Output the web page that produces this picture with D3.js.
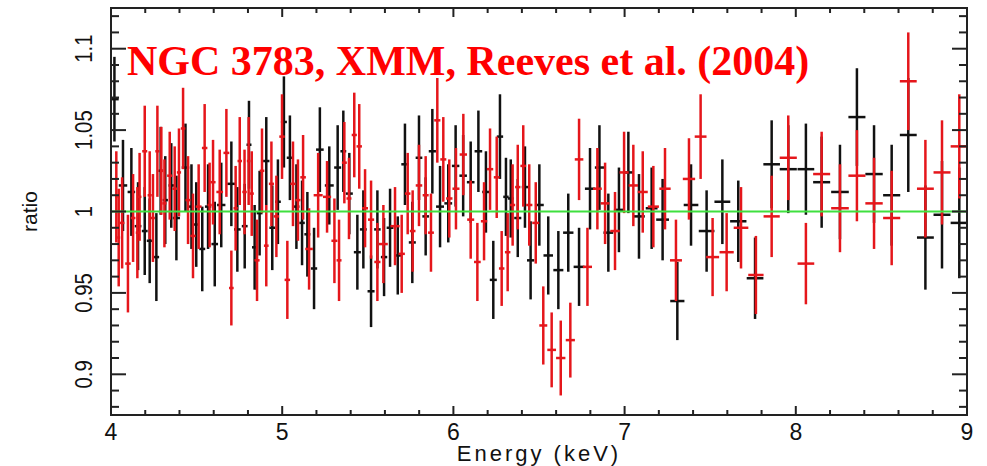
<!DOCTYPE html>
<html>
<head>
<meta charset="utf-8">
<script src="https://cdn.jsdelivr.net/npm/d3@7"></script>
<style>
  html, body { margin: 0; padding: 0; background: #ffffff; }
  svg { display: block; }
</style>
</head>
<body>
<svg id="chart" width="987" height="466"></svg>
<script>
// Data/model ratio for two detectors, 4-9 keV.
// Black series
const blackEnergy = [4.020, 4.070, 4.119, 4.158, 4.197, 4.226, 4.265, 4.290, 4.317, 4.352,
  4.382, 4.435, 4.470, 4.498, 4.533, 4.567, 4.606, 4.644, 4.703, 4.738,
  4.781, 4.806, 4.839, 4.868, 4.907, 4.942, 4.975, 5.010, 5.045, 5.083,
  5.116, 5.147, 5.186, 5.220, 5.275, 5.324, 5.357, 5.392, 5.439, 5.474,
  5.519, 5.556, 5.595, 5.630, 5.675, 5.717, 5.760, 5.799, 5.838, 5.877,
  5.922, 5.970, 6.013, 6.057, 6.101, 6.146, 6.190, 6.233, 6.272, 6.307,
  6.335, 6.376, 6.418, 6.451, 6.502, 6.554, 6.613, 6.671, 6.734, 6.798,
  6.853, 6.905, 6.967, 7.022, 7.084, 7.158, 7.222, 7.308, 7.388, 7.479,
  7.571, 7.664, 7.762, 7.859, 7.956, 8.059, 8.151, 8.258, 8.357, 8.457,
  8.560, 8.657, 8.757, 8.854, 8.955];
const blackRatio = [1.069, 1.016, 1.012, 0.991, 0.988, 0.982, 0.972, 1.025, 1.007, 1.016,
  0.996, 1.027, 1.003, 0.992, 0.977, 1.003, 0.980, 1.004, 1.017, 0.989,
  0.991, 1.041, 0.978, 0.999, 1.031, 0.990, 1.006, 1.055, 1.033, 1.003,
  0.993, 0.986, 0.965, 1.038, 1.016, 1.027, 1.037, 1.011, 0.975, 0.989,
  0.951, 0.989, 0.972, 0.990, 0.973, 1.029, 0.981, 1.033, 0.997, 1.037,
  1.003, 1.005, 1.028, 1.022, 1.018, 1.037, 1.012, 0.958, 1.046, 1.009,
  1.008, 0.996, 1.015, 0.970, 1.004, 0.973, 0.964, 0.987, 0.966, 1.014,
  1.027, 0.987, 1.001, 1.024, 0.997, 1.002, 0.995, 0.945, 1.004, 0.988,
  1.006, 0.994, 0.959, 1.029, 1.026, 1.026, 1.018, 1.012, 1.058, 1.023,
  1.010, 1.047, 0.984, 0.998, 0.993];
const blackError = [0.026, 0.028, 0.027, 0.027, 0.027, 0.026, 0.027, 0.027, 0.027, 0.026,
  0.026, 0.027, 0.026, 0.026, 0.026, 0.026, 0.026, 0.026, 0.026, 0.026,
  0.026, 0.027, 0.026, 0.026, 0.027, 0.026, 0.026, 0.028, 0.026, 0.026,
  0.026, 0.026, 0.025, 0.026, 0.024, 0.026, 0.025, 0.025, 0.023, 0.024,
  0.022, 0.024, 0.024, 0.024, 0.024, 0.025, 0.025, 0.026, 0.024, 0.026,
  0.025, 0.024, 0.025, 0.025, 0.025, 0.025, 0.025, 0.024, 0.026, 0.024,
  0.024, 0.024, 0.025, 0.024, 0.025, 0.024, 0.024, 0.024, 0.024, 0.025,
  0.026, 0.024, 0.026, 0.025, 0.026, 0.025, 0.025, 0.024, 0.025, 0.025,
  0.026, 0.025, 0.025, 0.027, 0.027, 0.028, 0.028, 0.029, 0.030, 0.030,
  0.031, 0.035, 0.032, 0.033, 0.034];

// Red series
const redEnergy = [4.031, 4.045, 4.065, 4.099, 4.129, 4.154, 4.167, 4.197, 4.226, 4.245,
  4.271, 4.294, 4.312, 4.343, 4.372, 4.397, 4.421, 4.450, 4.479, 4.512,
  4.547, 4.576, 4.596, 4.635, 4.674, 4.703, 4.728, 4.752, 4.780, 4.804,
  4.822, 4.853, 4.882, 4.907, 4.937, 4.966, 4.999, 5.030, 5.063, 5.092,
  5.122, 5.157, 5.210, 5.262, 5.305, 5.332, 5.363, 5.390, 5.421, 5.450,
  5.484, 5.519, 5.556, 5.591, 5.659, 5.698, 5.733, 5.762, 5.799, 5.838,
  5.869, 5.906, 5.941, 5.976, 6.015, 6.058, 6.101, 6.140, 6.179, 6.214,
  6.253, 6.282, 6.317, 6.346, 6.376, 6.408, 6.443, 6.481, 6.525, 6.574,
  6.627, 6.683, 6.734, 6.783, 6.841, 6.886, 6.944, 6.997, 7.051, 7.106,
  7.168, 7.236, 7.300, 7.376, 7.444, 7.514, 7.596, 7.680, 7.767, 7.859,
  7.956, 8.059, 8.151, 8.258, 8.357, 8.457, 8.560, 8.657, 8.757, 8.854,
  8.955];
const redRatio = [1.009, 0.984, 0.993, 0.968, 0.996, 0.987, 1.009, 1.037, 1.010, 0.996,
  1.037, 1.025, 1.005, 1.022, 1.014, 1.024, 1.051, 1.007, 0.985, 1.003,
  1.039, 1.004, 1.018, 1.012, 1.036, 0.953, 1.002, 1.031, 1.012, 1.031,
  1.011, 0.970, 1.025, 0.979, 1.017, 0.997, 1.046, 0.958, 1.017, 1.007,
  1.021, 0.977, 1.010, 1.009, 0.982, 0.970, 1.030, 1.008, 1.047, 1.040,
  1.002, 0.995, 0.969, 0.980, 0.991, 0.974, 1.011, 0.988, 1.016, 1.010,
  0.987, 1.056, 1.032, 1.008, 1.014, 1.035, 0.995, 0.969, 0.994, 1.026,
  1.021, 0.965, 0.975, 1.004, 1.015, 1.028, 1.004, 0.993, 0.930, 0.915,
  0.910, 0.921, 1.032, 0.966, 1.014, 1.005, 0.988, 1.024, 1.016, 1.012,
  1.003, 1.014, 0.970, 1.020, 1.046, 0.972, 0.975, 0.990, 0.961, 0.997,
  1.033, 0.968, 1.023, 1.002, 1.022, 1.005, 0.996, 1.080, 1.014, 1.024,
  1.040];
const redError = [0.028, 0.030, 0.028, 0.030, 0.027, 0.028, 0.027, 0.028, 0.027, 0.027,
  0.028, 0.027, 0.027, 0.027, 0.026, 0.027, 0.025, 0.027, 0.026, 0.026,
  0.027, 0.026, 0.026, 0.026, 0.027, 0.023, 0.026, 0.027, 0.026, 0.027,
  0.026, 0.025, 0.026, 0.025, 0.026, 0.025, 0.026, 0.024, 0.026, 0.025,
  0.026, 0.025, 0.026, 0.022, 0.026, 0.025, 0.025, 0.025, 0.026, 0.026,
  0.024, 0.024, 0.024, 0.024, 0.024, 0.024, 0.025, 0.025, 0.025, 0.024,
  0.024, 0.026, 0.026, 0.024, 0.025, 0.025, 0.024, 0.024, 0.024, 0.025,
  0.025, 0.023, 0.024, 0.025, 0.026, 0.025, 0.025, 0.025, 0.024, 0.023,
  0.023, 0.023, 0.025, 0.024, 0.025, 0.025, 0.024, 0.025, 0.025, 0.025,
  0.025, 0.025, 0.025, 0.025, 0.026, 0.024, 0.024, 0.025, 0.024, 0.025,
  0.026, 0.025, 0.026, 0.027, 0.028, 0.028, 0.029, 0.030, 0.030, 0.032,
  0.032];

const xTickValues = [4, 5, 6, 7, 8, 9];
const yTickValues = [0.9, 0.95, 1, 1.05, 1.1];
const yTickLabels = ["0.9", "0.95", "1", "1.05", "1.1"];
const titleText = "NGC 3783, XMM, Reeves et al. (2004)";
const xAxisTitle = "Energy (keV)";
const yAxisTitle = "ratio";

// Plot frame
const frame = { left: 111, right: 967, top: 8, bottom: 415 };
const svg = d3.select("#chart");
svg.append("rect").attr("width", 987).attr("height", 466).attr("fill", "#ffffff");

const x = d3.scaleLinear().domain([4, 9]).range([frame.left, frame.right]);
const y = d3.scaleLinear().domain([0.875, 1.125]).range([frame.bottom, frame.top]);

// Build point records; horizontal half-width spans half the gap to neighbouring bins
function records(E, R, S) {
  return E.map((e, i) => {
    const prev = i > 0 ? E[i - 1] : e - (E[i + 1] - e);
    const next = i < E.length - 1 ? E[i + 1] : e + (e - E[i - 1]);
    return { e, r: R[i], s: S[i], hw: (next - prev) / 4 };
  });
}
const blackPts = records(blackEnergy, blackRatio, blackError);
const redPts = records(redEnergy, redRatio, redError);

const plot = svg.append("g");
plot.append("clipPath").attr("id", "clip")
  .append("rect")
  .attr("x", frame.left).attr("y", frame.top)
  .attr("width", frame.right - frame.left).attr("height", frame.bottom - frame.top);
const marks = plot.append("g").attr("clip-path", "url(#clip)");

function drawSeries(pts, color, width) {
  const g = marks.append("g").attr("stroke", color).attr("stroke-width", width).attr("fill", "none");
  g.selectAll("line.v").data(pts).join("line").attr("class", "v")
    .attr("x1", d => x(d.e)).attr("x2", d => x(d.e))
    .attr("y1", d => y(d.r - d.s)).attr("y2", d => y(d.r + d.s));
  g.selectAll("line.h").data(pts).join("line").attr("class", "h")
    .attr("x1", d => x(d.e - d.hw)).attr("x2", d => x(d.e + d.hw))
    .attr("y1", d => y(d.r)).attr("y2", d => y(d.r));
}
drawSeries(blackPts, "#111111", 2.5);
drawSeries(redPts, "#e5161b", 2.5);

// Unity line
marks.append("line")
  .attr("x1", frame.left).attr("x2", frame.right)
  .attr("y1", y(1)).attr("y2", y(1))
  .attr("stroke", "#3fe03f").attr("stroke-width", 2);

// Ticks on all four sides
const tickG = svg.append("g").attr("stroke", "#222222").attr("stroke-width", 2);
const xMinor = d3.range(40, 91, 2).map(v => v / 10);
xMinor.forEach(v => {
  const major = Math.abs(v - Math.round(v)) < 1e-9;
  const len = major ? 9 : 5;
  tickG.append("line").attr("x1", x(v)).attr("x2", x(v)).attr("y1", frame.bottom).attr("y2", frame.bottom - len);
  tickG.append("line").attr("x1", x(v)).attr("x2", x(v)).attr("y1", frame.top).attr("y2", frame.top + len);
});
const yMinor = d3.range(88, 113, 1).map(v => v / 100);
yMinor.forEach(v => {
  const major = Math.abs(v * 20 - Math.round(v * 20)) < 1e-9;
  const len = major ? 15 : 8;
  tickG.append("line").attr("x1", frame.left).attr("x2", frame.left + len).attr("y1", y(v)).attr("y2", y(v));
  tickG.append("line").attr("x1", frame.right).attr("x2", frame.right - len).attr("y1", y(v)).attr("y2", y(v));
});

// Frame
svg.append("rect")
  .attr("x", frame.left).attr("y", frame.top)
  .attr("width", frame.right - frame.left).attr("height", frame.bottom - frame.top)
  .attr("fill", "none").attr("stroke", "#222222").attr("stroke-width", 2);

// Tick labels
const labelFont = "'Liberation Sans', Arial, sans-serif";
svg.append("g").selectAll("text").data(xTickValues).join("text")
  .attr("x", d => x(d)).attr("y", 440)
  .attr("text-anchor", "middle")
  .attr("font-family", labelFont).attr("font-size", 23).attr("fill", "#111")
  .text(d => d);

svg.append("g").selectAll("text").data(yTickValues).join("text")
  .attr("transform", d => `translate(92,${y(d)}) rotate(-90) scale(0.85,1)`)
  .attr("text-anchor", "middle")
  .attr("font-family", labelFont).attr("font-size", 24).attr("fill", "#111")
  .text((d, i) => yTickLabels[i]);

// Axis titles
svg.append("text")
  .attr("x", (frame.left + frame.right) / 2).attr("y", 461)
  .attr("text-anchor", "middle")
  .attr("font-family", labelFont).attr("font-size", 22).attr("letter-spacing", 3).attr("fill", "#111")
  .text(xAxisTitle);

svg.append("text")
  .attr("transform", `translate(37,${y(1)}) rotate(-90)`)
  .attr("text-anchor", "middle")
  .attr("font-family", labelFont).attr("font-size", 21).attr("fill", "#111")
  .text(yAxisTitle);

// Title
svg.append("text")
  .attr("x", 127).attr("y", 75)
  .attr("font-family", "'Liberation Serif', 'Times New Roman', serif")
  .attr("font-weight", "bold").attr("font-size", 42).attr("fill", "#ff0000")
  .text(titleText);
</script>
</body>
</html>
